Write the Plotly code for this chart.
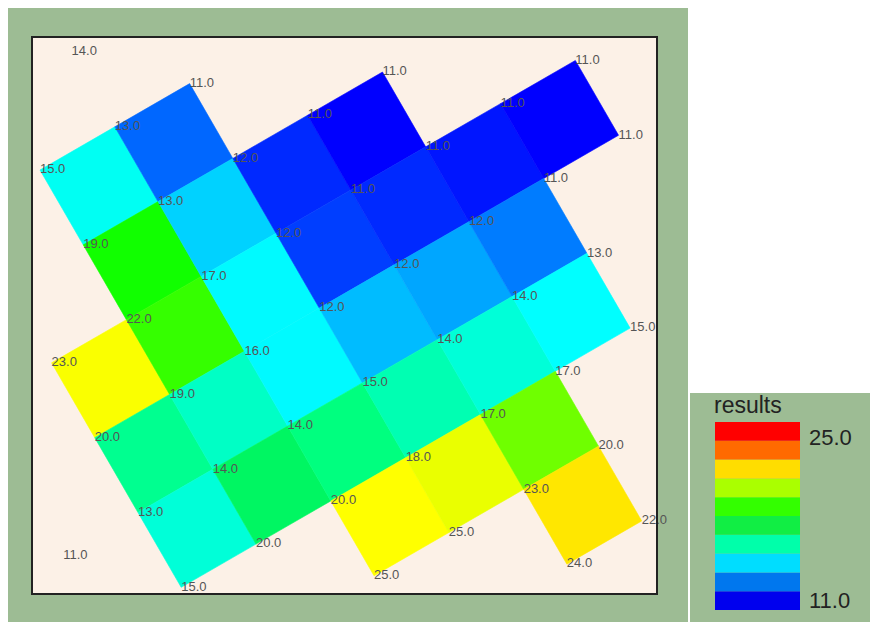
import math
import plotly.graph_objects as go
from plotly.colors import sample_colorscale

# ---- data: nodes of the rotated grid (grid index i, j) and their values
node_i = [1,
          0, 1, 2,
          0, 1, 2, 3, 4,
          -1, 0, 1, 2, 3, 4, 5, 6,
          -1, 0, 1, 2, 3, 4, 5, 6,
          -2, -1, 0, 1, 2, 3, 4, 5,
          -1, 0, 1, 2, 3, 4, 5,
          1, 2, 3, 4,
          3, 4]
node_j = [-1,
          0, 0, 0,
          1, 1, 1, 1, 1,
          2, 2, 2, 2, 2, 2, 2, 2,
          3, 3, 3, 3, 3, 3, 3, 3,
          4, 4, 4, 4, 4, 4, 4, 4,
          5, 5, 5, 5, 5, 5, 5,
          6, 6, 6, 6,
          7, 7]
node_val = [14.0,
            15.0, 13.0, 11.0,
            19.0, 13.0, 12.0, 11.0, 11.0,
            23.0, 22.0, 17.0, 12.0, 11.0, 11.0, 11.0, 11.0,
            20.0, 19.0, 16.0, 12.0, 12.0, 12.0, 11.0, 11.0,
            11.0, 13.0, 14.0, 14.0, 15.0, 14.0, 14.0, 13.0,
            15.0, 20.0, 20.0, 18.0, 17.0, 17.0, 15.0,
            25.0, 25.0, 23.0, 20.0,
            24.0, 22.0]

# cells identified by their corner node (i, j)
cell_i = [0, 1,
          0, 1, 2, 3,
          -1, 0, 1, 2, 3, 4, 5,
          -1, 0, 1, 2, 3, 4,
          -1, 0, 1, 2, 3, 4,
          1, 2, 3,
          3]
cell_j = [0, 0,
          1, 1, 1, 1,
          2, 2, 2, 2, 2, 2, 2,
          3, 3, 3, 3, 3, 3,
          4, 4, 4, 4, 4, 4,
          5, 5, 5,
          6]

vmin, vmax = 11.0, 25.0
legend_title = "results"
legend_colors = ["#FF0000", "#FF6A00", "#FFDD00", "#AAFF00", "#33FF00",
                 "#11EE44", "#00FFAA", "#00DDFF", "#0077EE", "#0000EE"]  # top -> bottom
legend_ticks = ["25.0", "11.0"]

cell_scale = [[0.0, "#0000FF"], [0.09, "#0068FF"], [0.143, "#00A6FF"], [0.18, "#00D4FF"],
              [0.23, "#00FAFF"], [0.27, "#00FFFF"], [0.32, "#00FFDA"], [0.357, "#00FFB2"],
              [0.41, "#00FF80"], [0.43, "#00F560"], [0.48, "#10FF00"], [0.536, "#35FF00"],
              [0.59, "#70FF00"], [0.696, "#EAFF00"], [0.72, "#FFFF00"], [0.786, "#FFFF00"],
              [0.80, "#FFEB00"], [1.0, "#FF0000"]]

# ---- geometry: grid rotated by 30 degrees
ang = math.radians(30)
def to_xy(i, j):
    return (i * math.cos(ang) + j * math.sin(ang),
            i * math.sin(ang) - j * math.cos(ang))

values = {(i, j): v for i, j, v in zip(node_i, node_j, node_val)}

W, H = 870, 622
GREEN = "#9DBC94"
BEIGE = "#FCF1E7"

fig = go.Figure()

for ci, cj in zip(cell_i, cell_j):
    corners = [(ci, cj), (ci + 1, cj), (ci + 1, cj + 1), (ci, cj + 1)]
    avg = sum(values[c] for c in corners) / 4.0
    col = sample_colorscale(cell_scale, [(avg - vmin) / (vmax - vmin)])[0]
    pts = [to_xy(*c) for c in corners] + [to_xy(*corners[0])]
    fig.add_trace(go.Scatter(
        x=[p[0] for p in pts], y=[p[1] for p in pts],
        mode="lines", fill="toself", fillcolor=col,
        line=dict(color=col, width=0.6), hoverinfo="skip",
        showlegend=False, xaxis="x", yaxis="y"))

lx = [to_xy(i, j)[0] for i, j in zip(node_i, node_j)]
ly = [to_xy(i, j)[1] for i, j in zip(node_i, node_j)]
fig.add_trace(go.Scatter(
    x=lx, y=ly, mode="text", text=[f"{v:.1f}" for v in node_val],
    textposition="middle right", cliponaxis=False,
    textfont=dict(family="Liberation Sans", size=13, color="#555555"),
    hoverinfo="skip", showlegend=False, xaxis="x", yaxis="y"))

# legend colour bands as stacked bars
n = len(legend_colors)
step = (vmax - vmin) / n
bases = [vmin + k * step for k in range(n)]
fig.add_trace(go.Bar(
    x=[0] * n, y=[step] * n, base=bases,
    marker=dict(color=list(reversed(legend_colors)), line=dict(width=0)),
    width=1.0, hoverinfo="skip", showlegend=False, xaxis="x2", yaxis="y2"))

# plot area (pixel layout)
L, R, T, B = 33, 656, 38, 593
ox, oy, s = 40, 170, 86.4
xr = [(L - ox) / s, (R - ox) / s]
yr = [(oy - B) / s, (oy - T) / s]

def px(x):
    return x / W

def py(y):
    return 1 - y / H

fig.update_layout(
    width=W, height=H, margin=dict(l=0, r=0, t=0, b=0),
    paper_bgcolor="white", plot_bgcolor="rgba(0,0,0,0)",
    barmode="overlay",
    xaxis=dict(domain=[px(L), px(R)], range=xr, showgrid=False, zeroline=False,
               showticklabels=False, ticks="", showline=True, mirror=True,
               linecolor="#222222", linewidth=1.5, fixedrange=True),
    yaxis=dict(domain=[py(B), py(T)], range=yr, showgrid=False, zeroline=False,
               showticklabels=False, ticks="", showline=True, mirror=True,
               linecolor="#222222", linewidth=1.5, fixedrange=True),
    xaxis2=dict(domain=[px(715), px(800)], range=[-0.5, 0.5], visible=False,
                fixedrange=True, anchor="y2"),
    yaxis2=dict(domain=[py(610), py(422)], range=[vmin, vmax], visible=False,
                fixedrange=True, anchor="x2"),
    shapes=[
        dict(type="rect", xref="paper", yref="paper", x0=px(8), x1=px(688),
             y0=0, y1=py(8), fillcolor=GREEN, line=dict(width=0), layer="below"),
        dict(type="rect", xref="paper", yref="paper", x0=px(690), x1=1,
             y0=0, y1=py(393), fillcolor=GREEN, line=dict(width=0), layer="below"),
        dict(type="rect", xref="paper", yref="paper", x0=px(L), x1=px(R),
             y0=py(B), y1=py(T), fillcolor=BEIGE, line=dict(width=0), layer="below"),
    ],
    annotations=[
        dict(text=legend_title, xref="paper", yref="paper", x=px(712), y=py(405),
             xanchor="left", yanchor="middle", showarrow=False,
             font=dict(family="Liberation Sans", size=23, color="#222222")),
        dict(text=legend_ticks[0], xref="paper", yref="paper", x=px(807), y=py(437),
             xanchor="left", yanchor="middle", showarrow=False,
             font=dict(family="Liberation Sans", size=22, color="#222222")),
        dict(text=legend_ticks[1], xref="paper", yref="paper", x=px(807), y=py(600),
             xanchor="left", yanchor="middle", showarrow=False,
             font=dict(family="Liberation Sans", size=22, color="#222222")),
    ],
)

fig.write_html("out.html", config={"displayModeBar": False},
               post_script="document.body.style.margin='0';document.body.style.overflow='hidden';")
